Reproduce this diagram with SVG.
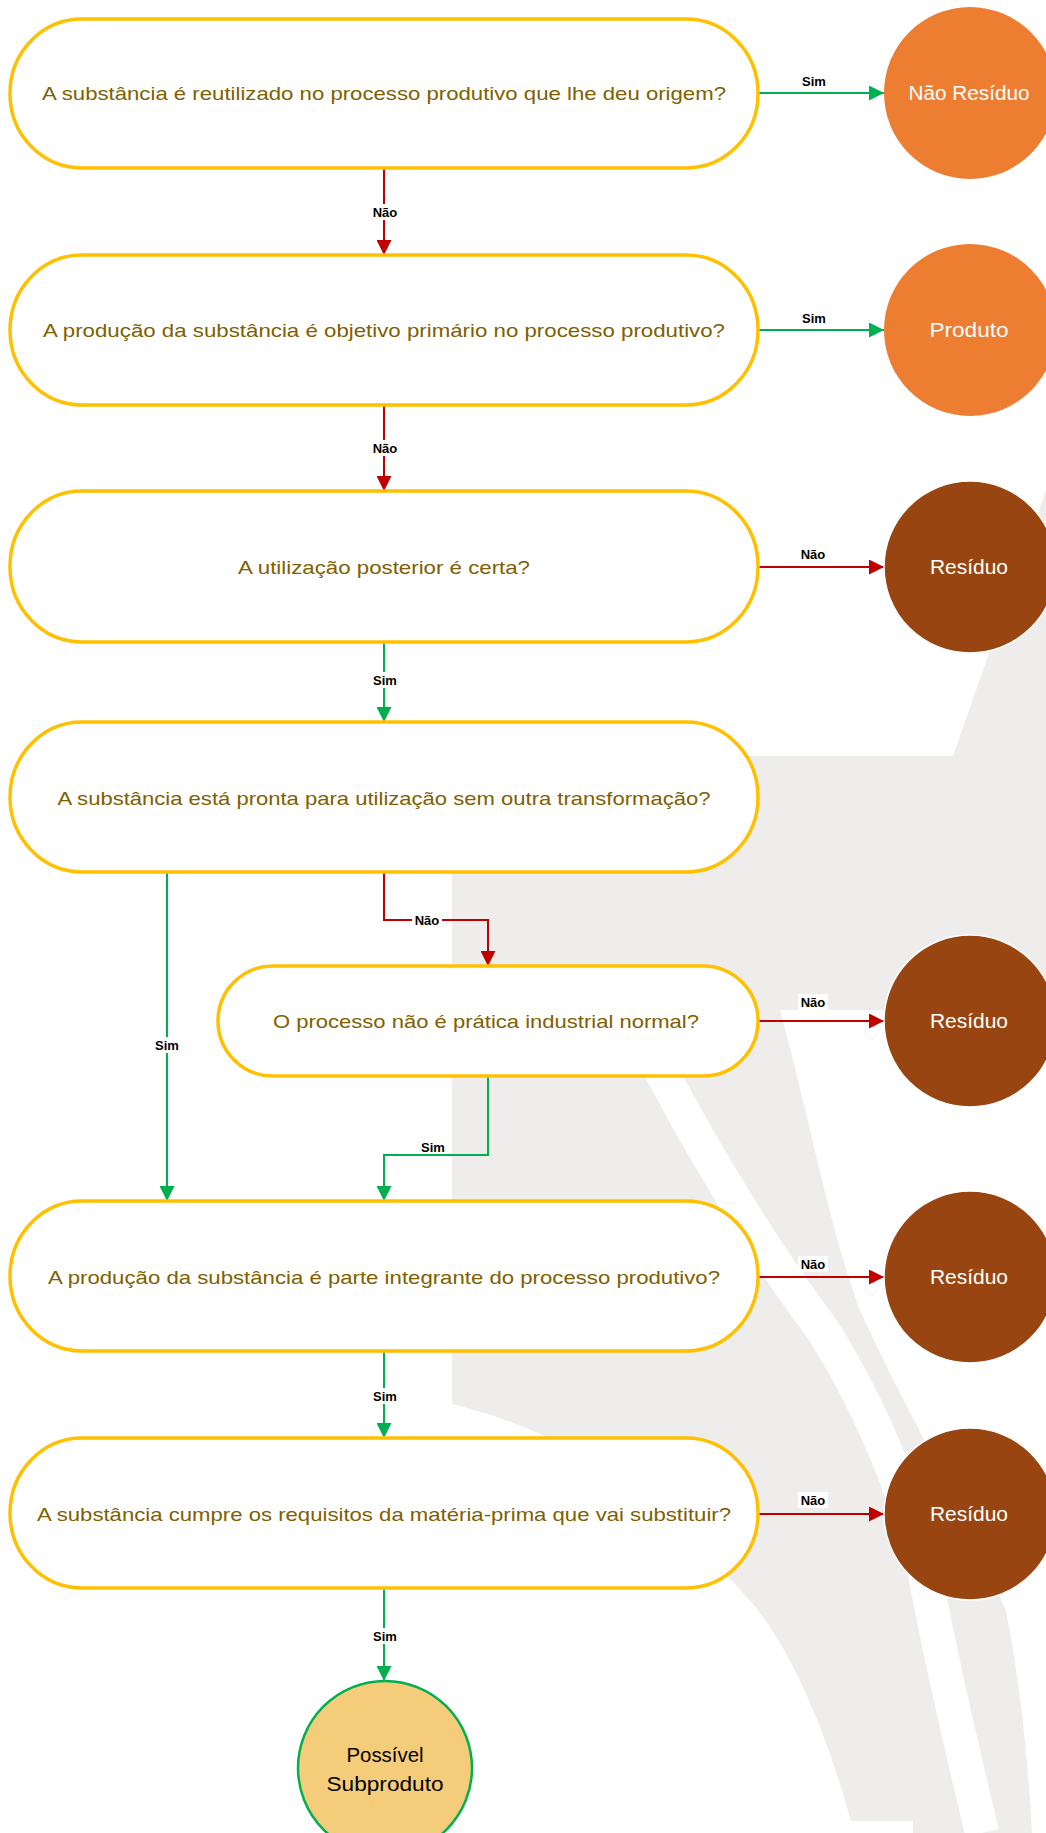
<svg xmlns="http://www.w3.org/2000/svg" width="1046" height="1833" viewBox="0 0 1046 1833">
<style>
.q{fill:#fff;stroke:#FFC000;stroke-width:3.5}
.qt{font-family:"Liberation Sans",Arial,sans-serif;font-size:19px;fill:#806000;text-anchor:middle}
.ct{font-family:"Liberation Sans",Arial,sans-serif;font-size:20px;fill:#fff;text-anchor:middle}
.lb{font-family:"Liberation Sans",Arial,sans-serif;font-size:13px;font-weight:bold;fill:#000;text-anchor:middle}
.lbg{fill:#fff}
.r{fill:none;stroke:#C00000;stroke-width:2}
.g{fill:none;stroke:#00B050;stroke-width:2}
.or{fill:#ED7D31}
.br{fill:#984511;stroke:#fff;stroke-width:1.5}
.wm{fill:#EEEDEB}
</style>
<defs>
<marker id="ar" markerUnits="userSpaceOnUse" markerWidth="15" markerHeight="15" refX="15" refY="7.5" orient="auto" viewBox="0 0 15 15"><path d="M0,0 L15,7.5 L0,15 Z" fill="#C00000"/></marker>
<marker id="ag" markerUnits="userSpaceOnUse" markerWidth="15" markerHeight="15" refX="15" refY="7.5" orient="auto" viewBox="0 0 15 15"><path d="M0,0 L15,7.5 L0,15 Z" fill="#00B050"/></marker>
</defs>
<rect width="1046" height="1833" fill="#fff"/>
<g id="watermark">
<path class="wm" d="M452,756 L953,756 L1046,490 L1046,1010 L780,1010 C810,1120 830,1230 860,1310 C900,1400 960,1500 1006,1611 C1020,1680 1028,1760 1032,1833 L854,1833 C830,1740 790,1640 741,1591 C690,1530 600,1440 452,1404 Z"/>
<path d="M640,1030 C700,1150 770,1260 822,1329 C880,1420 915,1520 927,1584 C945,1680 965,1760 982,1833" fill="none" stroke="#fff" stroke-width="34"/>
<rect x="0" y="1821" width="913" height="12" fill="#fff"/>
</g>
<g id="connectors">
<path class="g" d="M758,93 H884" marker-end="url(#ag)"/>
<path class="r" d="M384,168 V255" marker-end="url(#ar)"/>
<path class="g" d="M758,330 H884" marker-end="url(#ag)"/>
<path class="r" d="M384,405 V491" marker-end="url(#ar)"/>
<path class="r" d="M758,567 H884" marker-end="url(#ar)"/>
<path class="g" d="M384,642 V722" marker-end="url(#ag)"/>
<path class="r" d="M384,872 V920 H488 V966" marker-end="url(#ar)"/>
<path class="g" d="M167,872 V1201" marker-end="url(#ag)"/>
<path class="r" d="M758,1021 H884" marker-end="url(#ar)"/>
<path class="g" d="M488,1076 V1155 H384 V1201" marker-end="url(#ag)"/>
<path class="r" d="M758,1277 H884" marker-end="url(#ar)"/>
<path class="g" d="M384,1351 V1438" marker-end="url(#ag)"/>
<path class="r" d="M758,1514 H884" marker-end="url(#ar)"/>
<path class="g" d="M384,1588 V1681" marker-end="url(#ag)"/>
<rect class="lbg" x="800" y="74" width="28" height="15"/><text class="lb" x="814" y="86">Sim</text>
<rect class="lbg" x="370" y="204" width="30" height="16"/><text class="lb" x="385" y="217">Não</text>
<rect class="lbg" x="800" y="311" width="28" height="15"/><text class="lb" x="814" y="323">Sim</text>
<rect class="lbg" x="370" y="440" width="30" height="16"/><text class="lb" x="385" y="453">Não</text>
<rect class="lbg" x="798" y="546" width="30" height="16"/><text class="lb" x="813" y="559">Não</text>
<rect class="lbg" x="371" y="672" width="28" height="16"/><text class="lb" x="385" y="685">Sim</text>
<rect class="lbg" x="412" y="912" width="30" height="16"/><text class="lb" x="427" y="925">Não</text>
<rect class="lbg" x="153" y="1037" width="28" height="16"/><text class="lb" x="167" y="1050">Sim</text>
<rect class="lbg" x="798" y="994" width="30" height="16"/><text class="lb" x="813" y="1007">Não</text>
<rect class="lbg" x="419" y="1140" width="28" height="14"/><text class="lb" x="433" y="1152">Sim</text>
<rect class="lbg" x="798" y="1256" width="30" height="16"/><text class="lb" x="813" y="1269">Não</text>
<rect class="lbg" x="371" y="1388" width="28" height="16"/><text class="lb" x="385" y="1401">Sim</text>
<rect class="lbg" x="798" y="1492" width="30" height="16"/><text class="lb" x="813" y="1505">Não</text>
<rect class="lbg" x="371" y="1628" width="28" height="16"/><text class="lb" x="385" y="1641">Sim</text>
</g>
<g id="q1"><rect class="q" x="10" y="19" width="748" height="149" rx="72" ry="74"/><text class="qt" x="384" y="100" textLength="684" lengthAdjust="spacingAndGlyphs">A substância é reutilizado no processo produtivo que lhe deu origem?</text></g>
<g id="q2"><rect class="q" x="10" y="255" width="748" height="150" rx="72" ry="75"/><text class="qt" x="384" y="337" textLength="682" lengthAdjust="spacingAndGlyphs">A produção da substância é objetivo primário no processo produtivo?</text></g>
<g id="q3"><rect class="q" x="10" y="491" width="748" height="151" rx="72" ry="75"/><text class="qt" x="384" y="574" textLength="292" lengthAdjust="spacingAndGlyphs">A utilização posterior é certa?</text></g>
<g id="q4"><rect class="q" x="10" y="722" width="748" height="150" rx="72" ry="75"/><text class="qt" x="384" y="805" textLength="653" lengthAdjust="spacingAndGlyphs">A substância está pronta para utilização sem outra transformação?</text></g>
<g id="q5"><rect class="q" x="218" y="966" width="540" height="110" rx="55" ry="55"/><text class="qt" x="486" y="1028" textLength="426" lengthAdjust="spacingAndGlyphs">O processo não é prática industrial normal?</text></g>
<g id="q6"><rect class="q" x="10" y="1201" width="748" height="150" rx="72" ry="75"/><text class="qt" x="384" y="1284" textLength="672" lengthAdjust="spacingAndGlyphs">A produção da substância é parte integrante do processo produtivo?</text></g>
<g id="q7"><rect class="q" x="10" y="1438" width="748" height="150" rx="72" ry="75"/><text class="qt" x="384" y="1521" textLength="694" lengthAdjust="spacingAndGlyphs">A substância cumpre os requisitos da matéria-prima que vai substituir?</text></g>
<g id="c1"><circle class="or" cx="970" cy="93" r="86"/><text class="ct" x="969" y="100" textLength="121" lengthAdjust="spacingAndGlyphs">Não Resíduo</text></g>
<g id="c2"><circle class="or" cx="970" cy="330" r="86"/><text class="ct" x="969" y="337" textLength="79" lengthAdjust="spacingAndGlyphs">Produto</text></g>
<g id="c3"><circle class="br" cx="970" cy="567" r="86"/><text class="ct" x="969" y="574" textLength="78" lengthAdjust="spacingAndGlyphs">Resíduo</text></g>
<g id="c4"><circle class="br" cx="970" cy="1021" r="86"/><text class="ct" x="969" y="1028" textLength="78" lengthAdjust="spacingAndGlyphs">Resíduo</text></g>
<g id="c5"><circle class="br" cx="970" cy="1277" r="86"/><text class="ct" x="969" y="1284" textLength="78" lengthAdjust="spacingAndGlyphs">Resíduo</text></g>
<g id="c6"><circle class="br" cx="970" cy="1514" r="86"/><text class="ct" x="969" y="1521" textLength="78" lengthAdjust="spacingAndGlyphs">Resíduo</text></g>
<g id="c7"><circle cx="385" cy="1768" r="87" fill="#F5CD7A" stroke="#00B050" stroke-width="2.5"/><text class="ct" x="385" y="1762" style="fill:#000" textLength="77" lengthAdjust="spacingAndGlyphs">Possível</text><text class="ct" x="385" y="1791" style="fill:#000" textLength="117" lengthAdjust="spacingAndGlyphs">Subproduto</text></g>
</svg>
